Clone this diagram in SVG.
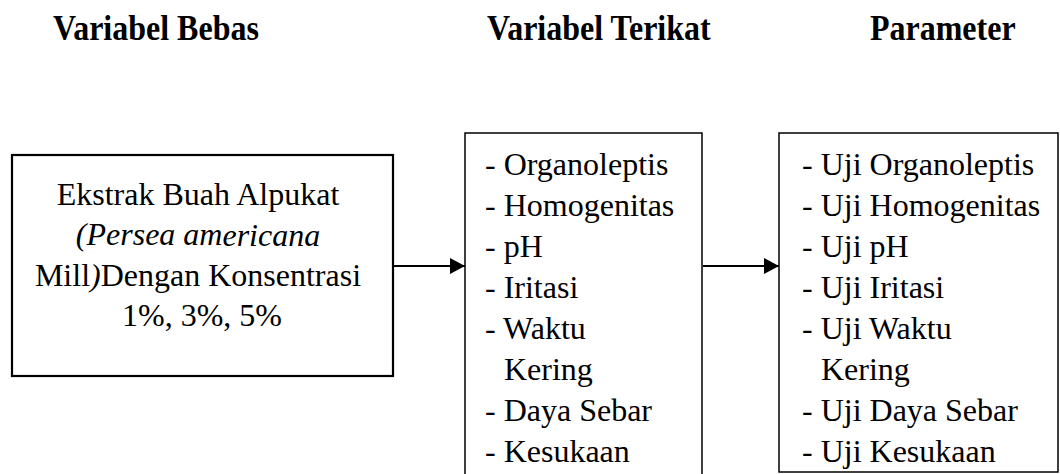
<svg xmlns="http://www.w3.org/2000/svg" width="1060" height="474" viewBox="0 0 1060 474">
<style>
.hdr{font-family:"Liberation Serif","Times New Roman",serif;font-weight:bold;font-size:32px;fill:#000}
.body{font-family:"Liberation Serif","Times New Roman",serif;font-size:32px;fill:#000}
.box{fill:#fff;stroke:#000}
.conn{stroke:#000;stroke-width:2;fill:none}
</style>
<defs>
<marker id="ah" markerUnits="userSpaceOnUse" markerWidth="15" markerHeight="16" refX="15" refY="8" orient="auto">
<path d="M0,0 L15,8 L0,16 Z" fill="#000"/>
</marker>
</defs>
<rect width="1060" height="474" fill="#fff"/>
<g id="headers">
<text class="hdr" transform="translate(53,40) scale(1,1.1)">Variabel Bebas</text>
<text class="hdr" transform="translate(487,40) scale(1,1.1)">Variabel Terikat</text>
<text class="hdr" transform="translate(870,40) scale(1,1.1)">Parameter</text>
</g>
<g id="node-bebas">
<rect class="box" x="12" y="155" width="381" height="221" stroke-width="2.2"/>
<text class="body" text-anchor="middle" transform="rotate(0.01 202 265)">
<tspan x="202" y="205">Ekstrak Buah Alpukat</tspan>
<tspan x="202" y="245.5" font-style="italic">(Persea americana</tspan>
<tspan x="202" y="286">Mill<tspan font-style="italic">)</tspan>Dengan Konsentrasi</tspan>
<tspan x="202" y="326">1%, 3%, 5%</tspan>
</text>
</g>
<g id="node-terikat">
<rect class="box" x="465" y="133" width="237" height="360" stroke-width="1.5"/>
<text class="body" transform="rotate(0.01 583 318)">
<tspan x="485" y="175">- Organoleptis</tspan>
<tspan x="485" y="216">- Homogenitas</tspan>
<tspan x="485" y="257">- pH</tspan>
<tspan x="485" y="298">- Iritasi</tspan>
<tspan x="485" y="339">- Waktu</tspan>
<tspan x="504" y="380">Kering</tspan>
<tspan x="485" y="421">- Daya Sebar</tspan>
<tspan x="485" y="462">- Kesukaan</tspan>
</text>
</g>
<g id="node-parameter">
<rect class="box" x="779" y="133" width="279" height="339" stroke-width="1.5"/>
<text class="body" transform="rotate(0.01 918 318)">
<tspan x="802" y="175">- Uji Organoleptis</tspan>
<tspan x="802" y="216">- Uji Homogenitas</tspan>
<tspan x="802" y="257">- Uji pH</tspan>
<tspan x="802" y="298">- Uji Iritasi</tspan>
<tspan x="802" y="339">- Uji Waktu</tspan>
<tspan x="821" y="380">Kering</tspan>
<tspan x="802" y="421">- Uji Daya Sebar</tspan>
<tspan x="802" y="462">- Uji Kesukaan</tspan>
</text>
</g>
<g id="connectors">
<line class="conn" x1="393" y1="266" x2="465" y2="266" marker-end="url(#ah)"/>
<line class="conn" x1="703" y1="266" x2="779" y2="266" marker-end="url(#ah)"/>
</g>
</svg>
